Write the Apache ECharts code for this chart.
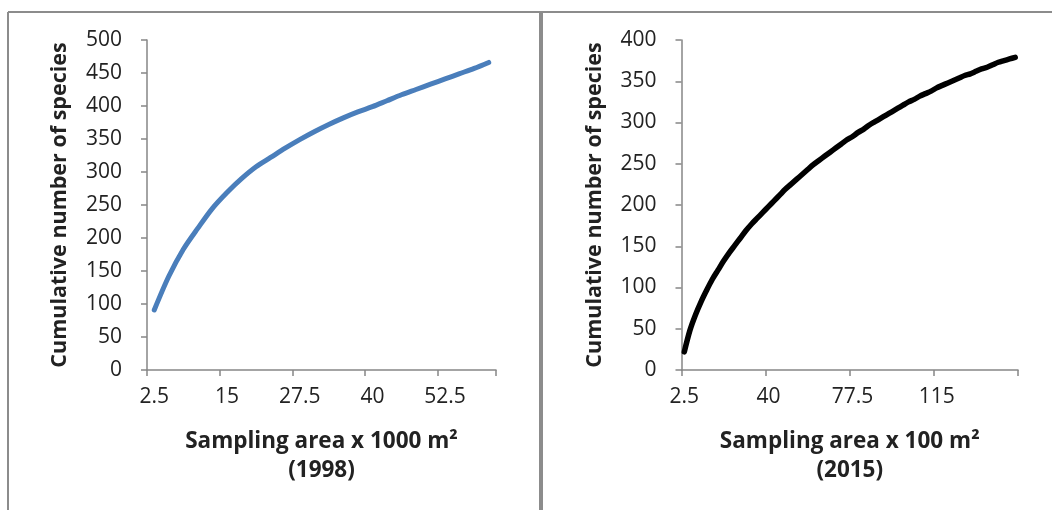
<!DOCTYPE html>
<html>
<head>
<meta charset="utf-8">
<script src="https://cdn.jsdelivr.net/npm/echarts@6/dist/echarts.min.js"></script>
<style>
html, body { margin: 0; padding: 0; background: #fff; }
#chartBox { width: 1052px; height: 510px; }
</style>
</head>
<body>
<div id="chartBox"></div>
<script>
// 1998 survey, sampling area x 1000 m2
const areas1998 = ['2.5', '5', '7.5', '10', '12.5', '15', '17.5', '20', '22.5', '25', '27.5', '30',
  '32.5', '35', '37.5', '40', '42.5', '45', '47.5', '50', '52.5', '55', '57.5', '60']
const species1998 = [91, 142, 183, 215, 245, 269, 290, 308, 322, 336, 349, 361,
  372, 382, 391, 399, 408, 417, 425, 433, 441, 449, 457, 466]

// 2015 survey, sampling area x 100 m2
const areas2015 = ['2.5', '5', '7.5', '10', '12.5', '15', '17.5', '20', '22.5', '25', '27.5', '30',
  '32.5', '35', '37.5', '40', '42.5', '45', '47.5', '50', '52.5', '55', '57.5', '60',
  '62.5', '65', '67.5', '70', '72.5', '75', '77.5', '80', '82.5', '85', '87.5', '90',
  '92.5', '95', '97.5', '100', '102.5', '105', '107.5', '110', '112.5', '115', '117.5', '120',
  '122.5', '125', '127.5', '130', '132.5', '135', '137.5', '140', '142.5', '145', '147.5', '150']
const species2015 = [22, 48, 67, 83, 97, 110, 121, 132, 142, 151, 160, 169,
  177, 184, 191, 198, 205, 212, 219, 225, 231, 237, 243, 249,
  254, 259, 264, 269, 274, 279, 283, 288, 292, 297, 301, 305,
  309, 313, 317, 321, 325, 328, 332, 335, 338, 342, 345, 348,
  351, 354, 357, 359, 362, 365, 367, 370, 373, 375, 377, 379]

const yName = 'Cumulative number of species'
const font = '"Open Sans", "Noto Sans", sans-serif'
const axisColor = '#868686'
const textColor = '#222'

function xAxisFor (index, cats, name, step) {
  return {
    type: 'category',
    gridIndex: index,
    data: cats,
    boundaryGap: true,
    name: name,
    nameLocation: 'middle',
    nameGap: 57,
    nameTextStyle: { fontFamily: font, fontSize: 22.5, fontWeight: 'bold', color: textColor, lineHeight: 29 },
    axisLine: { lineStyle: { color: axisColor, width: 1.5 } },
    axisTick: { show: true, interval: step, length: 6, lineStyle: { color: axisColor, width: 1.5 } },
    axisLabel: { interval: step, margin: 17, fontFamily: font, fontSize: 21, color: textColor },
    splitLine: { show: false }
  }
}

function yAxisFor (index, max) {
  return {
    type: 'value',
    gridIndex: index,
    min: 0,
    max: max,
    interval: 50,
    name: yName,
    nameLocation: 'middle',
    nameGap: 76,
    nameTextStyle: { fontFamily: font, fontSize: 21.5, fontWeight: 'bold', color: textColor },
    axisLine: { show: true, lineStyle: { color: axisColor, width: 1.5 } },
    axisTick: { show: true, length: 6, lineStyle: { color: axisColor, width: 1.5 } },
    axisLabel: { margin: 25, fontFamily: font, fontSize: 21, color: textColor },
    splitLine: { show: false }
  }
}

let myChart = echarts.init(document.getElementById('chartBox'))
myChart.setOption({
  animation: false,
  backgroundColor: '#fff',
  grid: [
    { left: 147, top: 40, width: 349, height: 330 },
    { left: 681.5, top: 40, width: 336.5, height: 330 }
  ],
  xAxis: [
    xAxisFor(0, areas1998, 'Sampling area x 1000 m²\n(1998)', 4),
    xAxisFor(1, areas2015, 'Sampling area x 100 m²\n(2015)', 14)
  ],
  yAxis: [
    yAxisFor(0, 500),
    yAxisFor(1, 400)
  ],
  series: [
    {
      type: 'line',
      xAxisIndex: 0,
      yAxisIndex: 0,
      data: species1998,
      smooth: 0.3,
      symbol: 'none',
      lineStyle: { color: '#4a7ebb', width: 5, cap: 'round' }
    },
    {
      type: 'line',
      xAxisIndex: 1,
      yAxisIndex: 1,
      data: species2015,
      smooth: 0.3,
      symbol: 'none',
      lineStyle: { color: '#000', width: 5.5, cap: 'round' }
    }
  ],
  // panel frames
  graphic: [
    { type: 'line', shape: { x1: 8, y1: 12, x2: 1052, y2: 12 }, style: { stroke: '#8c8c8c', lineWidth: 2 } },
    { type: 'line', shape: { x1: 8, y1: 12, x2: 8, y2: 510 }, style: { stroke: '#8c8c8c', lineWidth: 2 } },
    { type: 'line', shape: { x1: 541, y1: 12, x2: 541, y2: 510 }, style: { stroke: '#8c8c8c', lineWidth: 4 } }
  ]
})
</script>
</body>
</html>
